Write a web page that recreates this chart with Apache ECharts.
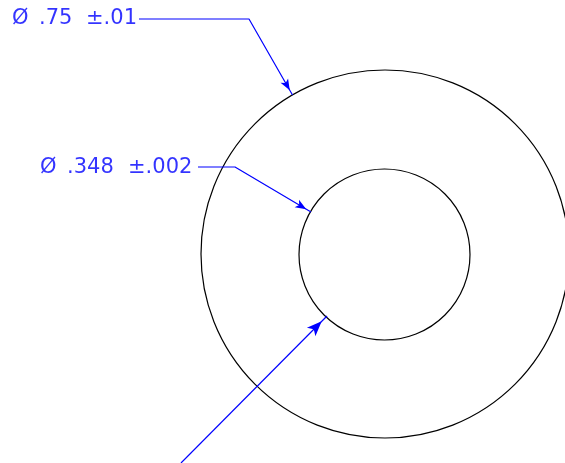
<!DOCTYPE html>
<html>
<head>
<meta charset="utf-8">
<title>Washer drawing</title>
<style>
html,body{margin:0;padding:0;background:#fff;}
#main{width:565px;height:463px;}
</style>
<script src="https://cdn.jsdelivr.net/npm/echarts@6/dist/echarts.min.js"></script>
</head>
<body>
<div id="main"></div>
<script>
// drawing units are the pixels of the original sheet, y grows downward
const circleCenters = [[385, 254], [384.5, 254.5]]
const circleRadii = [184, 85.5]

const leaderOuter = [[139, 19], [249, 19], [292.5, 95]]
const leaderInner = [[198, 167], [235, 167], [311, 212]]
const leaderThird = [[181, 463], [327, 316]]
const leaders = [leaderOuter, leaderInner, leaderThird]

const dimTexts = ['Ø', '.75', '±.01', 'Ø', '.348', '±.002']
const dimTextPos = [[12, 19], [39, 19], [86, 19], [40, 168], [67, 168], [128, 168]]

const blue = '#0000ff'
// length and width of each leader's arrowhead
const arrowSizes = [[6.5, 11], [6.5, 11], [9, 15]]
const chart = echarts.init(document.getElementById('main'))

// unit vector of the last segment of a leader
function lastDir(pts){
    const a = pts[pts.length - 2]
    const b = pts[pts.length - 1]
    const len = Math.hypot(b[0] - a[0], b[1] - a[1])
    return [(b[0] - a[0]) / len, (b[1] - a[1]) / len]
}

const leaderSeries = leaders.map((pts, k) => {
    const dir = lastDir(pts)
    const arrowLen = arrowSizes[k][1]
    return {
        type:'line',
        silent:true,
        showSymbol:true,
        lineStyle:{color:blue, width:1.2},
        itemStyle:{color:blue},
        data:pts.map((p, i) => {
            const last = i === pts.length - 1
            return {
                value:p,
                symbol:last ? 'arrow' : 'none',
                symbolSize:last ? arrowSizes[k] : 0,
                // the arrow symbol points up, rotation is anticlockwise
                symbolRotate:last ? Math.atan2(-dir[0], -dir[1]) * 180 / Math.PI : 0,
                // move it back so the tip sits on the circle
                symbolOffset:last ? [-dir[0] * arrowLen / 2, -dir[1] * arrowLen / 2] : 0
            }
        })
    }
})

chart.setOption({
    animation:false,
    backgroundColor:'#fff',
    grid:{left:0, right:0, top:0, bottom:0},
    xAxis:{type:'value', min:0, max:565, show:false},
    yAxis:{type:'value', min:0, max:463, inverse:true, show:false},
    series:[
        {
            type:'custom',
            silent:true,
            coordinateSystem:'cartesian2d',
            data:circleCenters.map((c, i) => [c[0], c[1], circleRadii[i]]),
            renderItem(params, api){
                const center = api.coord([api.value(0), api.value(1)])
                const r = api.size([api.value(2), 0])[0]
                return {
                    type:'circle',
                    shape:{cx:center[0], cy:center[1], r:r},
                    style:{fill:'none', stroke:'#000', lineWidth:1.2}
                }
            }
        },
        ...leaderSeries,
        {
            type:'scatter',
            silent:true,
            symbolSize:0,
            data:dimTexts.map((t, i) => ({value:dimTextPos[i], name:t})),
            label:{
                show:true,
                position:'right',
                distance:0,
                formatter:p => p.name,
                color:blue,
                fontFamily:'DejaVu Sans ExtraLight, DejaVu Sans',
                fontSize:21
            }
        }
    ]
})
</script>
</body>
</html>
